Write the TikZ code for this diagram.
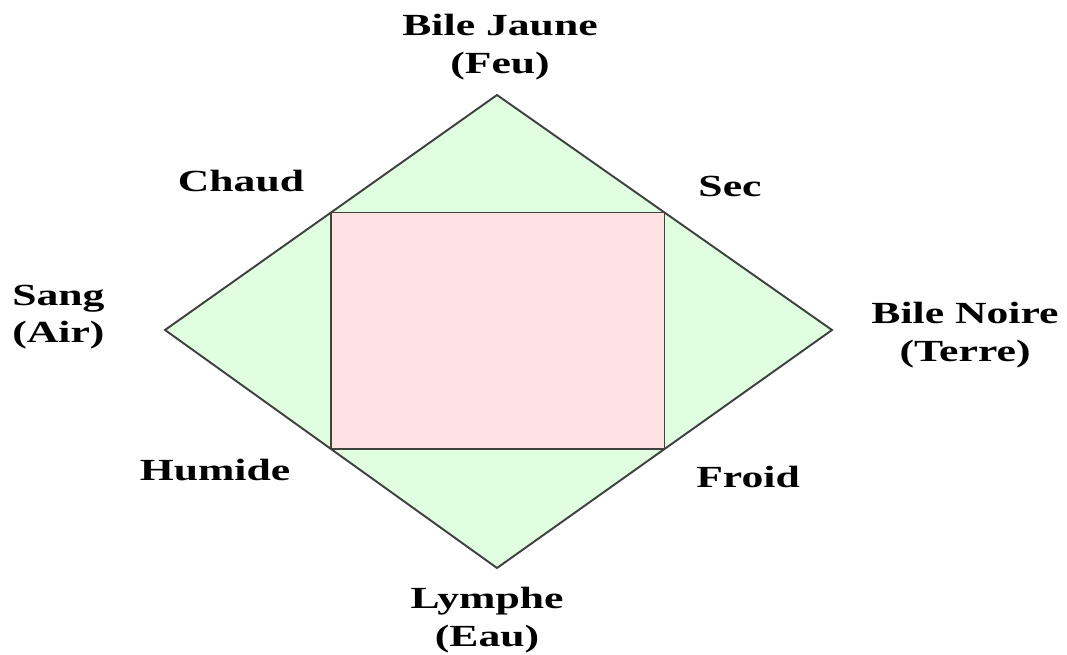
\documentclass[tikz,border=0pt]{standalone}
\usepackage{fontspec}
\setmainfont{Liberation Serif}
\usepackage{graphicx}
\usetikzlibrary{calc}
\newcommand{\wide}[1]{\scalebox{1.42}[1]{#1}}

\begin{document}
\begin{tikzpicture}[x=0.02cm,y=-0.02cm,
  edge/.style={draw=black!75,line width=1.1pt,line join=miter},
  humour/.style={edge,fill=green!12},
  quality/.style={edge,fill=red!11},
  tag/.style={font=\bfseries\fontsize{17.5}{21.5}\selectfont,align=center,inner sep=0pt}]
  \useasboundingbox (0,0) rectangle (1067,655);
  % the four humours at the corners of the diamond
  \coordinate (feu) at (497,95);
  \coordinate (air) at (165,330);
  \coordinate (terre) at (832,330);
  \coordinate (eau) at (497,568);
  % the qualities sit half-way along each side
  \coordinate (chaud) at ($(feu)!0.5!(air)$);
  \coordinate (sec) at ($(feu)!0.5!(terre)$);
  \coordinate (humide) at ($(air)!0.5!(eau)$);
  \coordinate (froid) at ($(terre)!0.5!(eau)$);
  \draw[humour] (feu)--(terre)--(eau)--(air)--cycle;
  \draw[quality] (chaud)--(sec)--(froid)--(humide)--cycle;
  % labels
  \node[tag] (lfeu) at (500,47) {\wide{Bile Jaune}\\\wide{(Feu)}};
  \node[tag,anchor=west,align=left] (lair) at (12,317) {\wide{Sang}\\\wide{(Air)}};
  \node[tag] (lterre) at (965,335) {\wide{Bile Noire}\\\wide{(Terre)}};
  \node[tag] (leau) at (487,620) {\wide{Lymphe}\\\wide{(Eau)}};
  \node[tag] (lchaud) at (241,181) {\wide{Chaud}};
  \node[tag] (lsec) at (730,186) {\wide{Sec}};
  \node[tag] (lhumide) at (215,470) {\wide{Humide}};
  \node[tag] (lfroid) at (748,477) {\wide{Froid}};
\end{tikzpicture}
\end{document}
